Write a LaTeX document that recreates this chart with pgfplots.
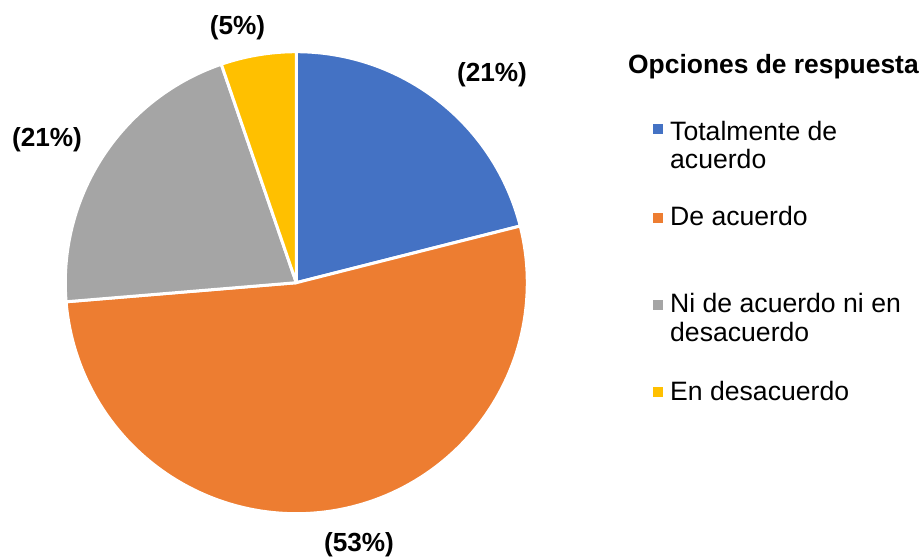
\documentclass[border=0pt]{standalone}
\usepackage{pgfplots}
\pgfplotsset{compat=1.18}
\usepackage{pgfplotstable}
\usepackage{fontspec}
\setmainfont{Liberation Sans}
\definecolor{cA}{HTML}{4472C4}
\definecolor{cB}{HTML}{ED7D31}
\definecolor{cC}{HTML}{A5A5A5}
\definecolor{cD}{HTML}{FFC000}
\pgfplotstableread{
value
4
10
4
1
}\piedata
\begin{document}
\begin{tikzpicture}
\pgfplotstablegetelem{0}{value}\of\piedata \let\va\pgfplotsretval
\pgfplotstablegetelem{1}{value}\of\piedata \let\vb\pgfplotsretval
\pgfplotstablegetelem{2}{value}\of\piedata \let\vc\pgfplotsretval
\pgfplotstablegetelem{3}{value}\of\piedata \let\vd\pgfplotsretval
\pgfmathsetmacro{\tot}{\va+\vb+\vc+\vd}
\pgfmathsetmacro{\aA}{90}
\pgfmathsetmacro{\aB}{\aA-360*\va/\tot}
\pgfmathsetmacro{\aC}{\aB-360*\vb/\tot}
\pgfmathsetmacro{\aD}{\aC-360*\vc/\tot}
\pgfmathsetmacro{\aE}{\aD-360*\vd/\tot}
\begin{axis}[scale only axis, width=923pt, height=557pt,
  xmin=0, xmax=923, ymin=0, ymax=557, y dir=reverse,
  axis lines=none, clip=false, samples=120, variable=\t]
\path (0,0) rectangle (923,557);
\addplot[fill=cA, draw=white, line width=3pt, line join=round, domain=\aB:\aA] ({296.3+231*cos(t)},{282.7-231*sin(t)}) -- (296.3,282.7) -- cycle;
\addplot[fill=cB, draw=white, line width=3pt, line join=round, domain=\aC:\aB] ({296.3+231*cos(t)},{282.7-231*sin(t)}) -- (296.3,282.7) -- cycle;
\addplot[fill=cC, draw=white, line width=3pt, line join=round, domain=\aD:\aC] ({296.3+231*cos(t)},{282.7-231*sin(t)}) -- (296.3,282.7) -- cycle;
\addplot[fill=cD, draw=white, line width=3pt, line join=round, domain=\aE:\aD] ({296.3+231*cos(t)},{282.7-231*sin(t)}) -- (296.3,282.7) -- cycle;
% legend markers
\addplot[only marks, mark=square*, mark size=4.5pt, cA] coordinates {(657.5,129)};
\addplot[only marks, mark=square*, mark size=4.5pt, cB] coordinates {(657.5,218)};
\addplot[only marks, mark=square*, mark size=4.5pt, cC] coordinates {(657.5,305)};
\addplot[only marks, mark=square*, mark size=4.5pt, cD] coordinates {(657.5,392)};
\begin{scope}[every node/.style={font=\fontsize{26.6}{29}\selectfont, inner sep=0pt}]
\node[anchor=base west, font=\fontsize{26.4}{29}\selectfont\bfseries] at (628,73) {Opciones de respuesta};
\node[anchor=base west] at (670,140) {Totalmente de};
\node[anchor=base west] at (670,168) {acuerdo};
\node[anchor=base west] at (670,225) {De acuerdo};
\node[anchor=base west] at (670,312) {Ni de acuerdo ni en};
\node[anchor=base west] at (670,341) {desacuerdo};
\node[anchor=base west] at (670,400) {En desacuerdo};
\node[font=\fontsize{26.2}{29}\selectfont\bfseries] at (492,75) {(21\%)};
\node[font=\fontsize{26.2}{29}\selectfont\bfseries] at (359,545) {(53\%)};
\node[font=\fontsize{26.2}{29}\selectfont\bfseries] at (47,140) {(21\%)};
\node[font=\fontsize{26.2}{29}\selectfont\bfseries] at (237.5,27.5) {(5\%)};
\end{scope}
\end{axis}
\end{tikzpicture}
\end{document}
